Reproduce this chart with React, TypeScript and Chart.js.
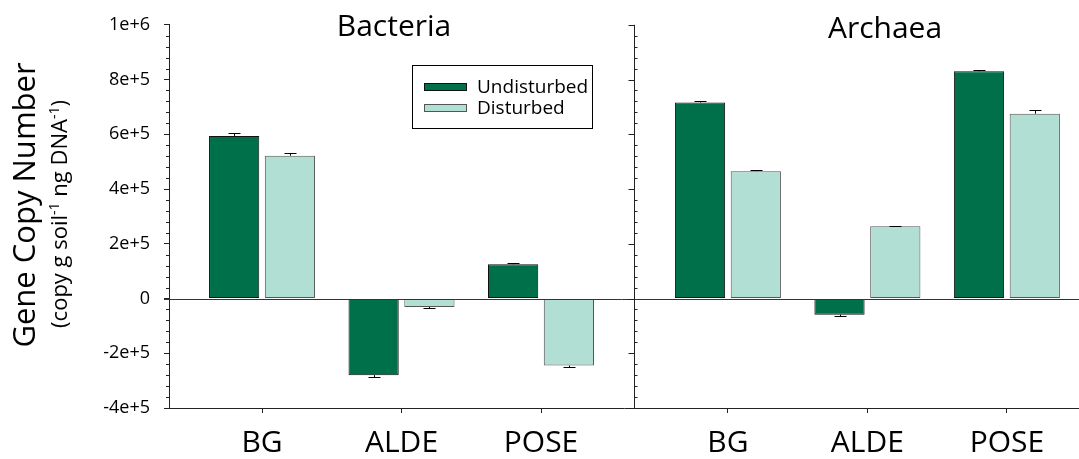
import React, { useEffect, useRef } from 'react';
import { Chart, registerables } from 'chart.js';

Chart.register(...registerables);

const FONT = 'Open Sans';

const categories = ['BG', 'ALDE', 'POSE'];
const panelTitles = ['Bacteria', 'Archaea'];
const seriesNames = ['Undisturbed', 'Disturbed'];
const bacteriaSlots = [1, 2, 3];
const archaeaSlots = [4.34, 5.34, 6.34];
const panelDivider = 3.667;

const bacteriaUndisturbed = [594000, -280000, 125000];
const bacteriaDisturbed = [522000, -31000, -245000];
const archaeaUndisturbed = [716000, -59000, 830000];
const archaeaDisturbed = [465000, 264000, 675000];

const bacteriaUndisturbedErr = [9000, 6000, 4800];
const bacteriaDisturbedErr = [9000, 3500, 5000];
const archaeaUndisturbedErr = [4700, 6000, 3600];
const archaeaDisturbedErr = [5700, 2400, 12000];

const yTickValues = [-400000, -200000, 0, 200000, 400000, 600000, 800000, 1000000];
const yTickLabels = ['-4e+5', '-2e+5', '0', '2e+5', '4e+5', '6e+5', '8e+5', '1e+6'];
const yMinorStep = 40000;

const darkGreen = '#00704a';
const lightGreen = '#b2dfd4';

const xSlots = [...bacteriaSlots, ...archaeaSlots];
const xLabels = [...categories, ...categories];

function pts(slots: number[], vals: number[]) {
  return slots.map((x, i) => ({ x, y: vals[i] }));
}

const customDraw = {
  id: 'customDraw',
  afterDatasetsDraw(chart: any) {
    const ctx = chart.ctx;
    const ys = chart.scales.y;
    const xs = chart.scales.x;
    const area = chart.chartArea;
    ctx.save();
    // error bars
    ctx.strokeStyle = '#000';
    ctx.lineWidth = 1;
    chart.data.datasets.forEach((ds: any, di: number) => {
      const meta = chart.getDatasetMeta(di);
      meta.data.forEach((el: any, i: number) => {
        const v = ds.data[i].y;
        const e = ds.errors[i];
        const tip = Math.round(ys.getPixelForValue(v + Math.sign(v) * e)) + 0.5;
        const x = Math.round(el.x) + 0.5;
        ctx.beginPath();
        ctx.moveTo(x, el.y);
        ctx.lineTo(x, tip);
        ctx.moveTo(x - 6, tip);
        ctx.lineTo(x + 6, tip);
        ctx.stroke();
      });
    });
    // zero line
    const y0 = Math.round(ys.getPixelForValue(0)) + 0.5;
    ctx.strokeStyle = '#333';
    ctx.beginPath();
    ctx.moveTo(area.left - 5, y0);
    ctx.lineTo(area.right, y0);
    ctx.stroke();
    // minor ticks on left axis and divider
    const xd = Math.round(xs.getPixelForValue(panelDivider)) + 0.5;
    ctx.strokeStyle = '#222';
    ctx.beginPath();
    ctx.moveTo(xd, area.top);
    ctx.lineTo(xd, area.bottom);
    for (let v = ys.min; v <= ys.max + 1; v += yMinorStep) {
      const py = Math.round(ys.getPixelForValue(v)) + 0.5;
      const isMajor = yTickValues.some((t) => Math.abs(t - v) < 1);
      if (!isMajor) {
        ctx.moveTo(area.left - 3, py);
        ctx.lineTo(area.left, py);
        ctx.moveTo(xd, py);
        ctx.lineTo(xd + 3, py);
      } else {
        ctx.moveTo(xd - 6, py);
        ctx.lineTo(xd, py);
      }
    }
    ctx.stroke();
    ctx.restore();
  },
  afterDraw(chart: any) {
    const ctx = chart.ctx;
    ctx.save();
    ctx.fillStyle = '#000';
    // panel titles
    ctx.font = `30px "${FONT}"`;
    ctx.textAlign = 'center';
    ctx.textBaseline = 'alphabetic';
    ctx.fillText(panelTitles[0], 394, 36);
    ctx.fillText(panelTitles[1], 885, 38);
    // y title
    ctx.save();
    ctx.translate(35, 205);
    ctx.rotate(-Math.PI / 2);
    ctx.font = `31px "${FONT}"`;
    ctx.fillText('Gene Copy Number', 0, 0);
    ctx.restore();
    // y subtitle with superscripts
    ctx.save();
    ctx.translate(66.5, 214);
    ctx.rotate(-Math.PI / 2);
    const segs: [string, boolean][] = [
      ['(copy g soil', false],
      ['-1', true],
      [' ng DNA', false],
      ['-1', true],
      [')', false],
    ];
    const mainF = `22px "${FONT}"`;
    const supF = `14px "${FONT}"`;
    let total = 0;
    segs.forEach(([t, s]) => {
      ctx.font = s ? supF : mainF;
      total += ctx.measureText(t).width;
    });
    let cx = -total / 2;
    ctx.textAlign = 'left';
    segs.forEach(([t, s]) => {
      ctx.font = s ? supF : mainF;
      ctx.fillText(t, cx, s ? -8 : 0);
      cx += ctx.measureText(t).width;
    });
    ctx.restore();
    // legend
    ctx.strokeStyle = '#000';
    ctx.lineWidth = 1;
    ctx.strokeRect(412.5, 65.5, 180, 63);
    const rows = [
      { name: seriesNames[0], fill: darkGreen, border: '#111', y: 83 },
      { name: seriesNames[1], fill: lightGreen, border: '#555', y: 104 },
    ];
    ctx.font = `19px "${FONT}"`;
    ctx.textAlign = 'left';
    rows.forEach((r) => {
      ctx.fillStyle = r.fill;
      ctx.fillRect(424, r.y, 43, 8);
      ctx.strokeStyle = r.border;
      ctx.strokeRect(424.5, r.y + 0.5, 42, 7);
      ctx.fillStyle = '#000';
      ctx.fillText(r.name, 477, r.y + 10);
    });
    ctx.restore();
  },
};

export default function App() {
  const ref = useRef<HTMLCanvasElement | null>(null);
  useEffect(() => {
    if (!ref.current) return;
    const chart = new Chart(ref.current, {
      type: 'bar',
      data: {
        datasets: [
          {
            label: seriesNames[0],
            data: [...pts(bacteriaSlots, bacteriaUndisturbed), ...pts(archaeaSlots, archaeaUndisturbed)],
            errors: [...bacteriaUndisturbedErr, ...archaeaUndisturbedErr],
            backgroundColor: darkGreen,
            borderColor: '#111',
            borderWidth: 1,
            borderSkipped: false,
          } as any,
          {
            label: seriesNames[1],
            data: [...pts(bacteriaSlots, bacteriaDisturbed), ...pts(archaeaSlots, archaeaDisturbed)],
            errors: [...bacteriaDisturbedErr, ...archaeaDisturbedErr],
            backgroundColor: lightGreen,
            borderColor: '#555',
            borderWidth: 1,
            borderSkipped: false,
          } as any,
        ],
      },
      options: {
        animation: false,
        responsive: false,
        categoryPercentage: 0.8,
        barPercentage: 0.9,
        layout: { padding: { top: 20, left: 0, right: 0, bottom: 0 } },
        plugins: { legend: { display: false }, tooltip: { enabled: false } },
        scales: {
          x: {
            type: 'linear',
            offset: false,
            min: 0.333,
            max: 6.857,
            afterFit: (s: any) => {
              s.height = 51;
            },
            afterBuildTicks: (s: any) => {
              s.ticks = xSlots.map((v) => ({ value: v }));
            },
            grid: { offset: false, drawOnChartArea: false, drawTicks: true, tickLength: 5, color: '#222', tickColor: '#222' },
            border: { display: true, color: '#222', width: 1 },
            ticks: {
              padding: 12,
              autoSkip: false,
              maxRotation: 0,
              color: '#000',
              font: { family: FONT, size: 30 },
              callback: (_v: any, i: number) => xLabels[i],
            },
          },
          y: {
            min: -400000,
            max: 1000000,
            afterFit: (s: any) => {
              s.width = 169;
            },
            grid: { drawOnChartArea: false, drawTicks: true, tickLength: 5, color: '#222', tickColor: '#222' },
            border: { display: true, color: '#222', width: 1 },
            ticks: {
              stepSize: 200000,
              padding: 14,
              color: '#000',
              font: { family: FONT, size: 18 },
              callback: (v: any) => {
                const idx = yTickValues.findIndex((t) => Math.abs(t - Number(v)) < 1);
                return idx >= 0 ? yTickLabels[idx] : '';
              },
            },
          },
        },
      } as any,
      plugins: [customDraw],
    });
    return () => chart.destroy();
  }, []);
  return (
    <div style={{ position: 'fixed', left: 0, top: 0, width: 1079, height: 459, background: '#fff' }}>
      <canvas ref={ref} width={1079} height={459} style={{ display: 'block' }} />
    </div>
  );
}
